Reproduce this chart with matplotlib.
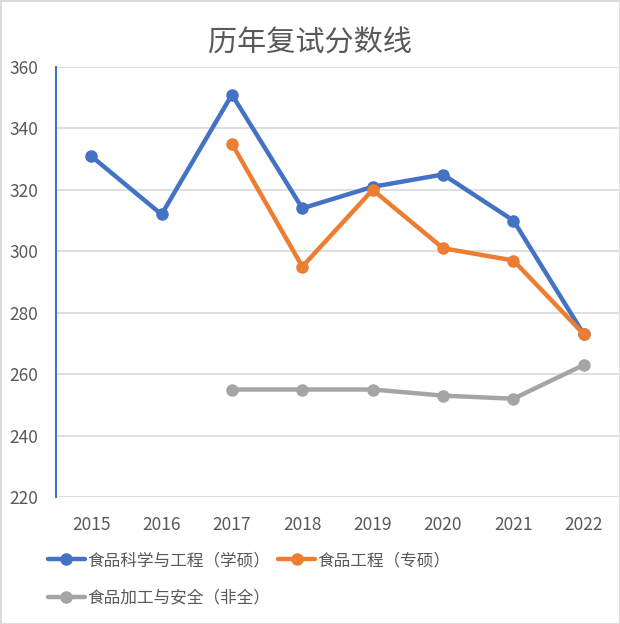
import matplotlib
matplotlib.use('Agg')
from matplotlib import pyplot as plt
from matplotlib.patches import Rectangle
import numpy as np

plt.rcParams['font.family'] = ['Noto Sans CJK SC', 'DejaVu Sans']

years = ['2015', '2016', '2017', '2018', '2019', '2020', '2021', '2022']
xueshuo = [331, 312, 351, 314, 321, 325, 310, 273]
zhuanshuo = [np.nan, np.nan, 335, 295, 320, 301, 297, 273]
feiquan = [np.nan, np.nan, 255, 255, 255, 253, 252, 263]

names = ['食品科学与工程（学硕）', '食品工程（专硕）', '食品加工与安全（非全）']
colors = ['#4472C4', '#ED7D31', '#A5A5A5']
TXT = '#595959'

fig = plt.figure(figsize=(6.2, 6.24), dpi=100)
ax = fig.add_axes([56 / 620, 127 / 624, 563 / 620, 430 / 624])

x = np.arange(len(years))
lines = []
for vals, name, c in zip([xueshuo, zhuanshuo, feiquan], names, colors):
    ln, = ax.plot(x, vals, color=c, lw=3.2, marker='o', ms=8, label=name,
                  solid_capstyle='round', solid_joinstyle='round')
    lines.append(ln)

ax.set_xlim(-0.5, len(years) - 0.5)
ax.set_ylim(220, 360)
ax.set_yticks(range(220, 361, 20))
ax.set_xticks(x)
ax.set_xticklabels(years)
ax.tick_params(axis='both', length=0, labelsize=12.5, labelcolor=TXT, pad=13)
ax.tick_params(axis='x', pad=14)
ax.grid(axis='y', color='#D9D9D9', lw=1.2)
ax.set_axisbelow(True)
for s in ['top', 'right', 'bottom']:
    ax.spines[s].set_visible(False)
ax.spines['left'].set_color('#4472C4')
ax.spines['left'].set_linewidth(1.5)

fig.suptitle('历年复试分数线', x=0.5, y=1 - 29 / 624, va='top', fontsize=21, color=TXT)

# legend fills column-wise, so order blue, gray | orange
order = [0, 2, 1]
fig.legend([lines[i] for i in order], [names[i] for i in order],
           loc='upper left', bbox_to_anchor=(48 / 620, 1 - 552 / 624), ncol=2,
           frameon=False, fontsize=12, labelcolor=TXT, handlelength=2.2,
           handletextpad=0.15, columnspacing=0.5, labelspacing=1.25,
           borderaxespad=0, borderpad=0)

fig.patches.append(Rectangle((0, 0), 1, 1, transform=fig.transFigure,
                             fill=False, edgecolor='#D9D9D9', lw=2))

fig.savefig('out.png', dpi=100)
